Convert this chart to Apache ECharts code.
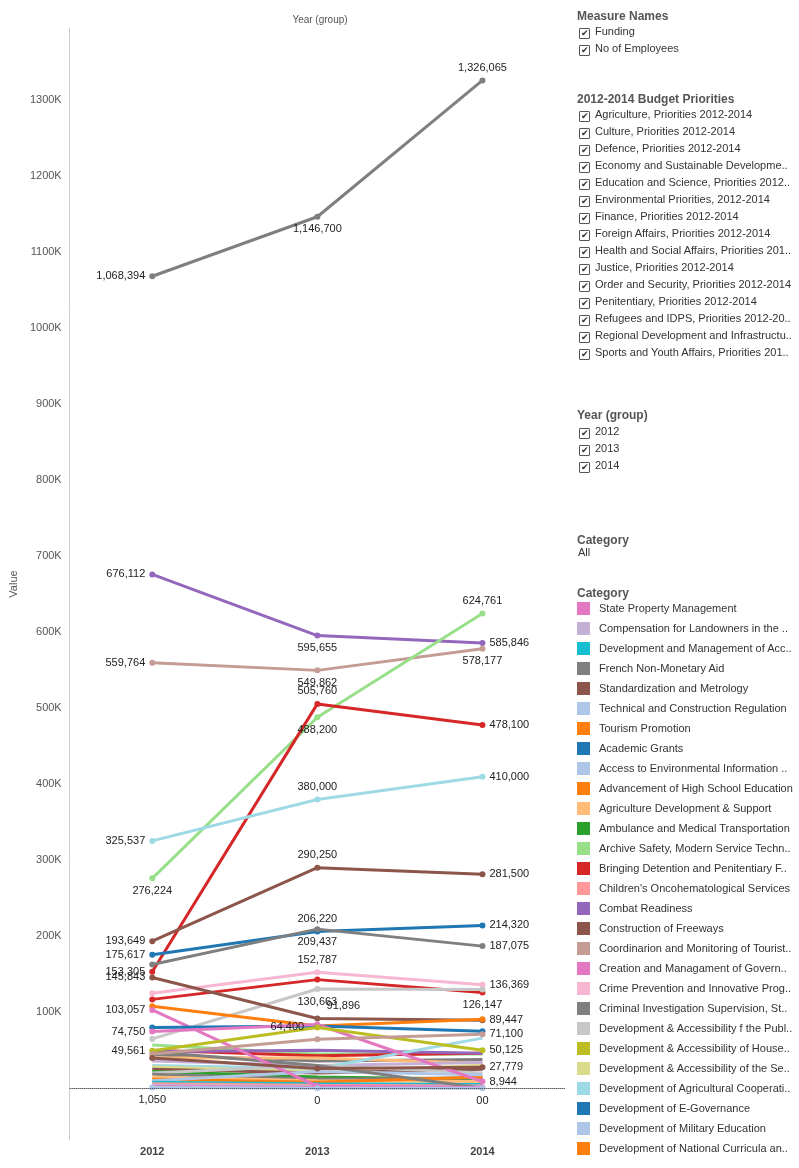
<!DOCTYPE html>
<html lang="en">
<head>
<meta charset="UTF-8" />
<title>Budget Priorities 2012-2014</title>
<script src="https://cdn.jsdelivr.net/npm/echarts@6.0.0/dist/echarts.min.js"></script>
<style>
  body { margin: 0; font-family: "Liberation Sans", Arial, sans-serif; }
  #main { position: absolute; left: 0; top: 0; width: 799px; height: 1168px; }
  #side { position: absolute; left: 577px; top: 0; width: 222px; font-size: 11px; color: #333; }
  .hd { position: absolute; font-weight: bold; font-size: 12px; color: #555; }
  .it { position: absolute; white-space: nowrap; }
  .cb { display: inline-block; width: 9px; height: 9px; border: 1px solid #555; border-radius: 1px;
        font-size: 9px; line-height: 9px; text-align: center; margin-right: 5px; vertical-align: -1px; }
  .sw { display: inline-block; width: 13px; height: 13px; margin-right: 9px; vertical-align: -3px; }
</style>
</head>
<body>
<div id="main"></div>
<div id="side"></div>
<script>
var years = ["2012", "2013", "2014"];

// labelled lines
var grayTop = [1068394, 1146700, 1326065];
var combat = [676112, 595655, 585846];
var tanTop = [559764, 549862, 578177];
var archive = [276224, 488200, 624761];
var detention = [153305, 505760, 478100];
var agriCoop = [325537, 380000, 410000];
var freeways = [193649, 290250, 281500];
var academic = [175617, 206220, 214320];
var criminal = [163000, 209437, 187075];
var crime = [125000, 152787, 136369];
var redMid = [117000, 143000, 126147];
var grayLight = [65000, 130663, 130000];
var brownMid = [145843, 91896, 89447];
var orangeMid = [108000, 82000, 91000];
var statePink = [103057, 3000, 1000];
var blueMid = [80000, 82000, 75000];
var pinkMid = [74750, 84000, 8944];
var olive = [49561, 80000, 50125];
var tanLow = [45000, 64400, 71100];
var brownLow = [40000, 26000, 27779];
var zeroLine = [1050, 0, 0];

// small unlabelled lines
var small = [
  [57000, 45000, 45000], [50000, 43000, 46000], [48000, 50000, 46000], [44000, 36000, 38000],
  [40000, 40000, 33000], [36000, 30000, 34000], [30000, 26000, 66000], [28000, 22000, 30000],
  [25000, 20000, 25000], [22000, 15000, 12000], [20000, 30000, 20000], [18357, 12000, 14000],
  [15000, 10000, 9000], [12000, 8000, 15000], [10000, 22000, 18000], [8000, 6000, 5000],
  [6000, 4000, 3000], [4000, 2000, 2000], [2000, 1000, 1000], [48000, 30000, 0]
];
var smallColors = ["#98df8a", "#d62728", "#9467bd", "#7f7f7f", "#ffbb78", "#c5b0d5", "#9edae5", "#dbdb8d",
  "#8c564b", "#2ca02c", "#c7c7c7", "#7f7f7f", "#ffbb78", "#ff7f0e", "#aec7e8", "#17becf",
  "#ff9896", "#c5b0d5", "#e377c2", "#7f7f7f"];

// labelled series: values, colour, label side per point (null = no label)
var main = [
  [grayTop, "#7f7f7f", ["left", "bottom", "top"]],
  [combat, "#9467bd", ["left", "bottom", "right"]],
  [tanTop, "#c49c94", ["left", "bottom", "bottom"]],
  [archive, "#98df8a", ["bottom", "bottom", "top"]],
  [detention, "#d62728", ["left", "top", "right"]],
  [agriCoop, "#9edae5", ["left", "top", "right"]],
  [freeways, "#8c564b", ["left", "top", "right"]],
  [academic, "#1f77b4", ["left", "top", "right"]],
  [criminal, "#7f7f7f", [null, "bottom", "right"]],
  [crime, "#f7b6d2", [null, "top", "right"]],
  [redMid, "#d62728", [null, null, "bottom"]],
  [grayLight, "#c7c7c7", [null, "bottom", null]],
  [brownMid, "#8c564b", ["left", "topRight", "right"]],
  [orangeMid, "#ff7f0e", [null, null, null]],
  [statePink, "#e377c2", ["left", null, null]],
  [blueMid, "#1f77b4", [null, null, null]],
  [pinkMid, "#e377c2", ["left", null, "right"]],
  [olive, "#bcbd22", ["left", null, "right"]],
  [tanLow, "#c49c94", [null, "topLeft", "right"]],
  [brownLow, "#8c564b", [null, null, "right"]],
  [zeroLine, "#aec7e8", ["bottom", "bottom", "bottom"]]
];

var series = [];
small.forEach(function (v, i) {
  series.push({ type: "line", data: v, lineStyle: { width: 3, color: smallColors[i] },
    itemStyle: { color: smallColors[i] }, symbolSize: 5, showSymbol: false, z: 1 });
});
main.forEach(function (m, k) {
  var data = m[0].map(function (v, i) {
    var side = m[2][i];
    var d = { value: v };
    if (side) {
      var lb = { show: true, position: side === "topRight" || side === "topLeft" ? "top" : side,
        color: "#222", fontSize: 11, distance: 4 };
      if (side === "topRight") lb.offset = [26, 0];
      if (side === "topLeft") lb.offset = [-30, 0];
      if (k === 20) lb.formatter = i === 2 ? "00" : undefined;
      d.label = lb;
    }
    return d;
  });
  series.push({ type: "line", data: data, lineStyle: { width: 3, color: m[1] },
    itemStyle: { color: m[1] }, symbol: "circle", symbolSize: 6, z: 3,
    label: { formatter: function (p) { return p.value.toLocaleString("en-US"); } } });
});
series[series.length - 1].markLine = {
  silent: true, symbol: "none", label: { show: false },
  lineStyle: { type: "dotted", color: "#333", width: 1 }, data: [{ yAxis: 0 }]
};

var chart = echarts.init(document.getElementById("main"));
chart.setOption({
  animation: false,
  textStyle: { fontFamily: "Liberation Sans, Arial, sans-serif" },
  title: { text: "Year (group)", left: 315, top: 10, textAlign: "center",
    textStyle: { fontSize: 10, fontWeight: "normal", color: "#555" } },
  grid: { left: 65, right: 234, top: 28, bottom: 28 },
  xAxis: { type: "category", data: years, boundaryGap: true,
    axisLine: { lineStyle: { color: "#ccc" } }, axisTick: { lineStyle: { color: "#ccc" }, length: 8 },
    axisLabel: { fontWeight: "bold", color: "#444", fontSize: 11, margin: 6 } },
  yAxis: { type: "value", min: -68000, max: 1395000, interval: 100000,
    name: "Value", nameLocation: "middle", nameGap: 48, nameRotate: 90,
    nameTextStyle: { color: "#555", fontSize: 11 },
    axisLine: { show: true, lineStyle: { color: "#ccc" } }, axisTick: { show: true, lineStyle: { color: "#ccc" } },
    splitLine: { show: false },
    axisLabel: { color: "#555", fontSize: 11, showMinLabel: false,
      formatter: function (v) { return v < 0 || v % 100000 !== 0 ? "" : v / 1000 + "K"; },
      customValues: [0, 100000, 200000, 300000, 400000, 500000, 600000, 700000, 800000, 900000, 1000000, 1100000, 1200000, 1300000] },
    axisTick: { customValues: [0, 100000, 200000, 300000, 400000, 500000, 600000, 700000, 800000, 900000, 1000000, 1100000, 1200000, 1300000], lineStyle: { color: "#ccc" } } },
  series: series
});

// side panel
var measures = ["Funding", "No of Employees"];
var priorities = ["Agriculture, Priorities 2012-2014", "Culture, Priorities 2012-2014", "Defence, Priorities 2012-2014",
  "Economy and Sustainable Developme..", "Education and Science, Priorities 2012..", "Environmental Priorities, 2012-2014",
  "Finance, Priorities 2012-2014", "Foreign Affairs, Priorities 2012-2014", "Health and Social Affairs, Priorities 201..",
  "Justice, Priorities 2012-2014", "Order and Security, Priorities 2012-2014", "Penitentiary, Priorities 2012-2014",
  "Refugees and IDPS, Priorities 2012-20..", "Regional Development and Infrastructu..", "Sports and Youth Affairs, Priorities 201.."];
var categories = ["State Property Management", "Compensation for Landowners in the ..", "Development and Management of Acc..",
  "French Non-Monetary Aid", "Standardization and Metrology", "Technical and Construction Regulation", "Tourism Promotion",
  "Academic Grants", "Access to Environmental Information ..", "Advancement of High School Education",
  "Agriculture Development & Support", "Ambulance and Medical Transportation", "Archive Safety, Modern Service Techn..",
  "Bringing Detention and Penitentiary F..", "Children's Oncohematological Services", "Combat Readiness",
  "Construction of Freeways", "Coordinarion and Monitoring of Tourist..", "Creation and Managament of Govern..",
  "Crime Prevention and Innovative Prog..", "Criminal Investigation Supervision, St..", "Development & Accessibility f the Publ..",
  "Development & Accessibility of House..", "Development & Accessibility of the Se..", "Development of Agricultural Cooperati..",
  "Development of E-Governance", "Development of Military Education", "Development of National Curricula an.."];
var catColors = ["#e377c2", "#c5b0d5", "#17becf", "#7f7f7f", "#8c564b", "#aec7e8", "#ff7f0e", "#1f77b4", "#aec7e8",
  "#ff7f0e", "#ffbb78", "#2ca02c", "#98df8a", "#d62728", "#ff9896", "#9467bd", "#8c564b", "#c49c94", "#e377c2",
  "#f7b6d2", "#7f7f7f", "#c7c7c7", "#bcbd22", "#dbdb8d", "#9edae5", "#1f77b4", "#aec7e8", "#ff7f0e"];

var side = document.getElementById("side");
var html = "";
function hd(t, y) { html += '<div class="hd" style="top:' + y + 'px">' + t + '</div>'; }
function checks(list, y0) {
  list.forEach(function (t, i) {
    html += '<div class="it" style="top:' + (y0 + i * 17) + 'px;left:2px"><span class="cb">&#10004;</span>' + t + '</div>';
  });
}
hd("Measure Names", 9); checks(measures, 25);
hd("2012-2014 Budget Priorities", 92); checks(priorities, 108);
hd("Year (group)", 408); checks(["2012", "2013", "2014"], 425);
hd("Category", 533);
html += '<div class="it" style="top:546px;left:1px">All</div>';
hd("Category", 586);
categories.forEach(function (t, i) {
  html += '<div class="it" style="top:' + (602 + i * 20) + 'px;left:0"><span class="sw" style="background:' + catColors[i] + '"></span>' + t + '</div>';
});
side.innerHTML = html;
</script>
</body>
</html>
